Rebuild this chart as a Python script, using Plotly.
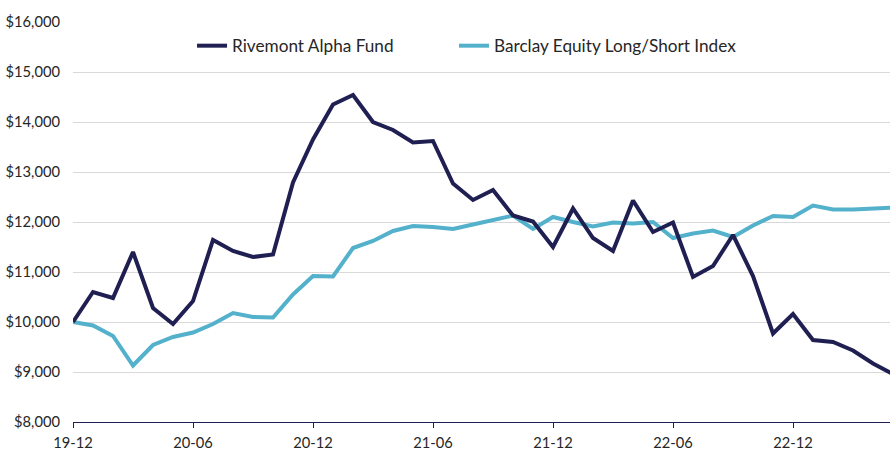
import plotly.graph_objects as go

months = ["19-12", "20-01", "20-02", "20-03", "20-04", "20-05", "20-06", "20-07", "20-08", "20-09",
          "20-10", "20-11", "20-12", "21-01", "21-02", "21-03", "21-04", "21-05", "21-06", "21-07",
          "21-08", "21-09", "21-10", "21-11", "21-12", "22-01", "22-02", "22-03", "22-04", "22-05",
          "22-06", "22-07", "22-08", "22-09", "22-10", "22-11", "22-12", "23-01", "23-02", "23-03",
          "23-04", "23-05"]

rivemont = [10000, 10600, 10480, 11400, 10280, 9960, 10420, 11640, 11420, 11300, 11350, 12790,
            13650, 14350, 14540, 14000, 13840, 13590, 13620, 12770, 12440, 12640, 12130, 12010, 11500,
            12270, 11680, 11420, 12430, 11800, 11990, 10900, 11120, 11740, 10920, 9770,
            10160, 9640, 9600, 9430, 9170, 8960]

barclay = [10000, 9930, 9720, 9130, 9540, 9700, 9790, 9960, 10180, 10100, 10090, 10550,
           10920, 10910, 11480, 11620, 11820, 11920, 11900, 11860, 11950, 12040, 12130, 11860, 12100,
           12000, 11910, 11990, 11970, 12000, 11680, 11770, 11830, 11700, 11930, 12120,
           12100, 12330, 12250, 12250, 12280, 12290]

tick_labels = ["19-12", "20-06", "20-12", "21-06", "21-12", "22-06", "22-12"]
y_ticks = [8000, 9000, 10000, 11000, 12000, 13000, 14000, 15000, 16000]

DARK = "#201F52"
LIGHT = "#54B1CC"
FONT = "Lato"

fig = go.Figure()
fig.add_trace(go.Scatter(x=months, y=barclay, mode="lines", name="Barclay Equity Long/Short Index",
                         line=dict(color=LIGHT, width=4), legend="legend2"))
fig.add_trace(go.Scatter(x=months, y=rivemont, mode="lines", name="Rivemont Alpha Fund",
                         line=dict(color=DARK, width=4), legend="legend"))

legend_common = dict(orientation="h", y=0.94, xanchor="left", yanchor="middle",
                     font=dict(size=17.2, color="#262626"), bgcolor="rgba(0,0,0,0)")

fig.update_layout(
    width=890, height=451,
    margin=dict(l=73, r=0, t=22, b=29),
    paper_bgcolor="white", plot_bgcolor="white",
    font=dict(family=FONT, size=14.7, color="#262626"),
    showlegend=True,
    legend=dict(x=0.1457, **legend_common),
    legend2=dict(x=0.4663, **legend_common),
    xaxis=dict(type="category", range=[0, 40.85], tickmode="array", tickvals=tick_labels,
               ticktext=tick_labels, showgrid=False, showline=True, linecolor=DARK, linewidth=1,
               ticks="outside", ticklen=5, tickcolor=DARK, tickwidth=1, zeroline=False,
               ticklabelstandoff=2, tickfont=dict(size=14.7)),
    yaxis=dict(range=[8000, 16000], tickmode="array", tickvals=y_ticks, tickformat="$,.0f",
               showgrid=True, gridcolor="#D9D9D9", gridwidth=1, zeroline=False, showline=False,
               ticks="", ticklabelstandoff=12, tickfont=dict(size=14.7)),
)

# remove the browser's default 8px body margin so the figure fills the window exactly
fig.write_html("out.html", config={"displayModeBar": False},
               post_script="document.body.style.margin='0';document.body.style.overflow='hidden';")
